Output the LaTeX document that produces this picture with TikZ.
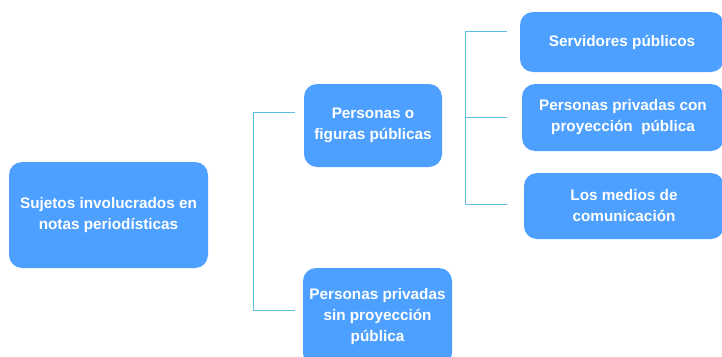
\documentclass[tikz,border=0pt]{standalone}
\usepackage{fontspec}
\setmainfont{Liberation Sans}
\definecolor{boxblue}{HTML}{4DA0FF}
\definecolor{linkblue}{HTML}{5BBCE4}
\begin{document}
\begin{tikzpicture}[x=1pt,y=-1pt,
  box/.style={draw=none,fill=boxblue,rounded corners=13pt,text=white,
    font=\bfseries\fontsize{15.3}{21}\selectfont,align=center,inner sep=0pt},
  link/.style={draw=linkblue,line width=1pt}]
\clip (0,0) rectangle (722,356);
\useasboundingbox (0,0) rectangle (722,356);
\node[box,minimum width=199pt,minimum height=106pt] (root) at (108.5,215) {Sujetos involucrados en\\notas periodísticas};
\node[box,minimum width=138pt,minimum height=83pt] (pub) at (373,125.5) {Personas o\\figuras públicas};
\node[box,minimum width=149pt,minimum height=98pt] (priv) at (377.5,317) {Personas privadas\\sin proyección\\pública};
\node[box,minimum width=204pt,minimum height=60pt] (serv) at (622,42) {Servidores públicos};
\node[box,minimum width=202pt,minimum height=67pt] (proy) at (623,117.5) {Personas privadas con\\proyección\ \ pública};
\node[box,minimum width=200pt,minimum height=66pt] (med) at (624,206) {Los medios de\\comunicación};
% bracket 1
\coordinate (b1t) at (253,112);
\coordinate (b1b) at (253,310);
\coordinate (t1a) at (295,112);
\coordinate (t1b) at (295,310);
\draw[link] (t1a) -- (b1t) -- (b1b) -- (t1b);
% bracket 2
\coordinate (b2t) at (465,31);
\coordinate (b2m) at (465,117);
\coordinate (b2b) at (465,204);
\coordinate (t2a) at (507,31);
\coordinate (t2b) at (507,117);
\coordinate (t2c) at (507,204);
\draw[link] (t2a) -- (b2t) -- (b2b) -- (t2c);
\draw[link] (b2m) -- (t2b);
\end{tikzpicture}
\end{document}
